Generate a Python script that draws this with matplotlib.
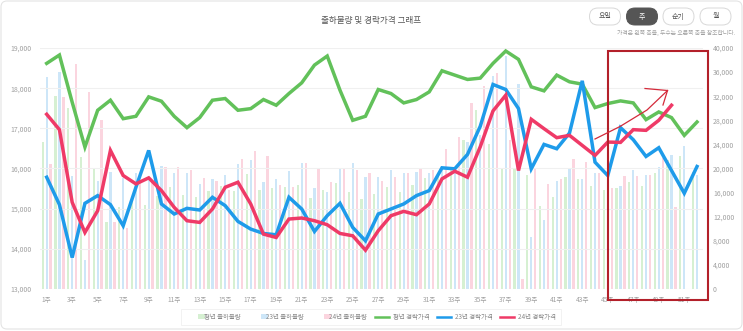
import numpy as np
import matplotlib
matplotlib.use("Agg")
import matplotlib.pyplot as plt
from matplotlib.patches import FancyBboxPatch, Rectangle
from matplotlib.lines import Line2D
from matplotlib.patches import Patch

plt.rcParams['font.family'] = ['Noto Sans CJK KR', 'DejaVu Sans']

weeks = list(range(1, 53))
week_labels = [f"{w}주" for w in weeks]

# 출하물량 (right axis)
qty_avg = [24450, 32050, 30000, 21960, 20000, 11130, 13640, 15000, 13940, 15500,
           17000, 15600, 15200, 16300, 17100, 16300, 19040, 16430, 16710, 16990,
           17260, 15160, 16430, 17540, 16160, 15000, 15720, 16990, 16050, 17260,
           18500, 18920, 20030, 24730, 29710, 24000, 20030, 20030, 18840, 13720,
           15240, 18560, 18210, 17120, 16430, 16820, 17810, 17100, 19200, 21410,
           22130, 19480]
qty_23 = [35140, 36080, 18760, 4810, 18000, 19480, 18370, 19200, 18400, 20400,
          19200, 19200, 17500, 18260, 18900, 20800, 21410, 17810, 18260, 19590,
          20860, 16710, 16160, 19920, 20860, 18650, 18650, 19750, 19310, 19480,
          19200, 20030, 20300, 24450, 25560, 35300, 38700, 34000, 8680, 11370,
          17900, 20030, 18210, 19310, 17000, 17100, 19750, 18920, 20200, 22240,
          23770, 18920]
qty_24 = [20700, 31820, 37300, 32650, 28000, 11130, 10120, 18100, 18000, 20250,
          20300, 19700, 18370, 17900, 16500, 21550, 22900, 22130, 17260, 16990,
          20860, 19920, 17700, 19920, 19750, 19250, 17930, 18650, 19200, 19870,
          19750, 23240, 25280, 30830, 33750, 35800, 24730, 1700, 20150, 17400,
          18200, 21530, 21130, 19310, 16800, 18760, 18760, 18920, 21690, 13600,
          np.nan, np.nan]

# 경락가격 (left axis)
price_avg = [18617, 18825, 17650, 16533, 17450, 17700, 17240, 17300, 17783, 17675,
             17300, 17017, 17267, 17700, 17742, 17450, 17490, 17717, 17575, 17867,
             18133, 18575, 18800, 17950, 17200, 17300, 17967, 17867, 17633, 17717,
             17908, 18433, 18325, 18217, 18250, 18617, 18925, 18717, 18033, 17933,
             18325, 18158, 18100, 17517, 17617, 17683, 17633, 17217, 17408, 17267,
             16825, 17158]
price_23 = [15783, 15100, 13783, 15133, 15325, 15100, 14575, 15533, 16450, 15117,
            14867, 15008, 14967, 15283, 15075, 14683, 14492, 14383, 14350, 15283,
            14992, 14433, 14825, 15133, 14533, 14200, 14867, 14992, 15117, 15325,
            15450, 16017, 15992, 16350, 17050, 18092, 17967, 17492, 15992, 16600,
            16492, 16883, 18183, 16158, 15825, 17017, 16717, 16300, 16517, 15950,
            15383, 16050]
price_24 = [17350, 16967, 15158, 14408, 14950, 16450, 15825, 15617, 15767, 15450,
            15033, 14700, 14658, 14992, 15533, 15658, 15117, 14367, 14283, 14742,
            14767, 14700, 14600, 14383, 14325, 13967, 14450, 14825, 14933, 14850,
            15117, 15742, 15933, 15783, 16540, 17433, 17825, 15950, 17225, 16992,
            16767, 16825, 16575, 16325, 16658, 16650, 16967, 16950, 17200, 17575,
            np.nan, np.nan]

bar_names = ["평년 출하물량", "23년 출하물량", "24년 출하물량"]
line_names = ["평년 경락가격", "23년 경락가격", "24년 경락가격"]
bar_colors = ["#d6f0d2", "#cde6f8", "#fbd5df"]
line_colors = ["#62c15a", "#1e9bea", "#ef3a67"]
buttons = ["요일", "주", "순기", "월"]

W, H = 743, 331


def px(x, y):
    return x / W, 1 - y / H


def main():
    fig = plt.figure(figsize=(W / 100, H / 100), dpi=100)
    fig.patch.set_facecolor("white")
    left, right, top, bottom = 40.3, 703.4, 48, 289
    ax = fig.add_axes([left / W, 1 - bottom / H, (right - left) / W, (bottom - top) / H])
    ax2 = ax.twinx()

    x = np.array(weeks)
    off = 0.31
    bw = 0.18
    for i, q in enumerate([qty_avg, qty_23, qty_24]):
        ax2.bar(x + (i - 1) * off, q, width=bw, color=bar_colors[i], zorder=1)
    ax2.set_ylim(0, 40000)
    ax2.set_yticks(range(0, 40001, 4000))
    ax2.set_yticklabels([f"{v:,}" for v in range(0, 40001, 4000)])

    for i, p in enumerate([price_avg, price_23, price_24]):
        ax.plot(x, p, color=line_colors[i], lw=2.5, solid_joinstyle="miter", zorder=3)
    ax.set_ylim(13000, 19000)
    ax.set_yticks(range(13000, 19001, 1000))
    ax.set_yticklabels([f"{v:,}" for v in range(13000, 19001, 1000)])
    ax.set_xlim(0.5, 52.5)
    ax.set_xticks(weeks[::2])
    ax.set_xticklabels(week_labels[::2])
    ax.grid(axis="y", color="#f0f0f0", lw=0.8)
    ax.set_axisbelow(True)
    ax.set_zorder(ax2.get_zorder() + 1)
    ax.patch.set_visible(False)

    for a in (ax, ax2):
        for s in a.spines.values():
            s.set_visible(False)
    ax.tick_params(axis="both", length=0, labelsize=5, labelcolor="#a0a0a0")
    ax.tick_params(axis="y", pad=6)
    ax.tick_params(axis="x", pad=5, labelsize=4.8)
    ax2.tick_params(axis="y", length=0, labelsize=5, labelcolor="#a0a0a0", pad=7)

    # legend
    handles = [Patch(facecolor=c, edgecolor="none") for c in bar_colors]
    handles += [Line2D([0], [0], color=c, lw=1.8) for c in line_colors]
    leg = fig.legend(handles, bar_names + line_names, ncol=6, loc="center",
                     bbox_to_anchor=px(371, 317), fontsize=4.6, frameon=True,
                     fancybox=False, handlelength=2.2, handleheight=0.8,
                     columnspacing=1.2, handletextpad=0.6, borderpad=0.7)
    leg.get_frame().set_edgecolor("#ececec")
    leg.get_frame().set_linewidth(0.6)
    for t in leg.get_texts():
        t.set_color("#888888")
    for h in leg.legend_handles[:3]:
        h.set_width(5)
        h.set_x(9)

    # overlay in pixel coords for header and annotation
    ov = fig.add_axes([0, 0, 1, 1], zorder=10)
    ov.set_xlim(0, W)
    ov.set_ylim(H, 0)
    ov.axis("off")
    ov.patch.set_visible(False)

    ov.add_patch(FancyBboxPatch((1, 1), W - 2, H - 3,
                                boxstyle="round,pad=0,rounding_size=6",
                                fc="none", ec="#e4e4e4", lw=0.8))
    ov.text(371, 20, "출하물량 및 경락가격 그래프", ha="center", va="center",
            fontsize=6.2, color="#555555")
    for name, cx in zip(buttons, [605, 642, 678.5, 715.5]):
        filled = name == "주"
        ov.add_patch(FancyBboxPatch((cx - 15.5, 8), 31, 17,
                                    boxstyle="round,pad=0,rounding_size=8.5",
                                    fc="#555555" if filled else "white",
                                    ec="#555555" if filled else "#d8d8d8", lw=0.7))
        ov.text(cx, 16.5, name, ha="center", va="center", fontsize=5,
                color="white" if filled else "#555555")
    ov.text(735, 33, "가격은 왼쪽 축을, 두수는 오른쪽 축을 참조합니다.",
            ha="right", va="center", fontsize=4.2, color="#a0a0a0")

    # red highlight box and hand-drawn arrow
    ov.add_patch(Rectangle((608, 51), 100, 249, fc="none", ec="#b3202a", lw=1.5))
    ov.plot([595, 620, 647, 667], [139, 126.5, 110, 91], color="#d42a3a", lw=0.9)
    ov.plot([645, 667.5], [88.5, 90.5], color="#d42a3a", lw=0.9)
    ov.plot([663, 667.5], [105, 90.5], color="#d42a3a", lw=0.9)

    fig.savefig("out.png", dpi=100)
    plt.close(fig)


if __name__ == '__main__':
    main()
